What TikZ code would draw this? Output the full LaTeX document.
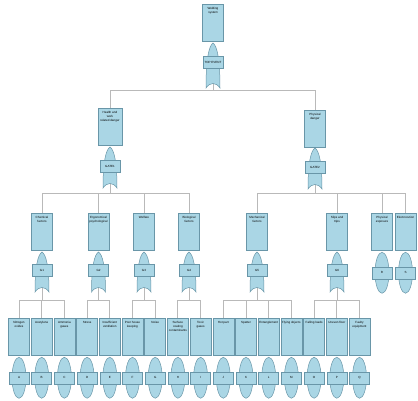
\documentclass[tikz,border=0pt]{standalone}
\usepackage{fontspec}
\setmainfont{Liberation Sans}
\usetikzlibrary{shapes.geometric, positioning}
\definecolor{evtfill}{RGB}{170,214,229}
\definecolor{evtline}{RGB}{105,150,168}
\definecolor{wiregray}{RGB}{185,185,185}
\newcommand{\etxt}[1]{\parbox[t][30pt][t]{20pt}{\centering #1}}

\begin{document}
\begin{tikzpicture}[
  x=1pt, y=-1pt,
  evt/.style={rectangle, draw=evtline, fill=evtfill, line width=0.5pt, minimum width=21pt, minimum height=37pt, inner sep=0.5pt, anchor=north, font=\fontsize{3}{3.8}\selectfont},
  gl/.style={rectangle, draw=evtline, fill=evtfill, line width=0.5pt, minimum width=20pt, minimum height=12pt, inner sep=0pt, font=\fontsize{3}{3.8}\selectfont},
  bev/.style={ellipse, draw=evtline, fill=evtfill, line width=0.5pt, minimum width=14pt, minimum height=41pt, inner sep=0pt, anchor=north},
  orgate/.pic={\path[draw=evtline, fill=evtfill, line width=0.5pt] (-7,#1) .. controls (-7,0.35*#1) and (-4,0.06*#1) .. (0,0) .. controls (4,0.06*#1) and (7,0.35*#1) .. (7,#1) .. controls (3,#1-6) and (-3,#1-6) .. (-7,#1) -- cycle;},
  ln/.style={draw=wiregray, line width=0.9pt}
]
\fill[white] (0,0) rectangle (418,400);
\useasboundingbox (0,0) rectangle (418,400);

% top event
\node[evt] (top) at (213,4) {\etxt{Welding\\system}};
\pic at (213,43) {orgate=45};
\node[gl] (g0) at (213,62.5) {TOP EVENT};
\coordinate (g0b) at (213,84);
\coordinate (b0) at (213,90);

% second level
\node[evt, minimum width=24pt] (hz) at (110,108) {\etxt{Health and\\work\\related danger}};
\pic at (110,147) {orgate=41};
\node[gl] (g1) at (110,166) {GATE1};
\coordinate (g1b) at (110,184);
\coordinate (b1) at (110,193);

\node[evt] (ph) at (315,110) {\etxt{Physical\\danger}};
\pic at (315,148) {orgate=41};
\node[gl] (g2) at (315,167) {GATE2};
\coordinate (g2b) at (315,185);
\coordinate (b2) at (315,193);

% third level
\node[evt] (ch) at (42,213) {\etxt{Chemical\\factors}};
\node[evt] (er) at (98.5,213) {\etxt{Ergonomical\\psychological}};
\node[evt] (we) at (144,213) {\etxt{Welfare}};
\node[evt] (bi) at (189,213) {\etxt{Biological\\factors}};
\node[evt] (me) at (257,213) {\etxt{Mechanical\\factors}};
\node[evt] (sl) at (337,213) {\etxt{Slips and\\trips}};
\node[evt] (px) at (382,213) {\etxt{Physical\\exposure}};
\node[evt] (el) at (405.5,213) {\etxt{Electrocution}};

\pic at (42,252) {orgate=40};
\node[gl] (g3) at (42,270) {G1};
\pic at (98.5,252) {orgate=40};
\node[gl] (g4) at (98.5,270) {G2};
\pic at (144,252) {orgate=40};
\node[gl] (g5) at (144,270) {G3};
\pic at (189,252) {orgate=40};
\node[gl] (g6) at (189,270) {G4};
\pic at (257,252) {orgate=40};
\node[gl] (g7) at (257,270) {G5};
\pic at (337,252) {orgate=40};
\node[gl] (g8) at (337,270) {G6};
\node[bev, label={[gl]center:R}] (epx) at (382,252) {};
\node[bev, label={[gl]center:S}] (eel) at (405.5,252) {};

\coordinate (g3b) at (42,288);
\coordinate (g4b) at (98.5,288);
\coordinate (g5b) at (144,288);
\coordinate (g6b) at (189,288);
\coordinate (g7b) at (257,288);
\coordinate (g8b) at (337,288);
\coordinate (c1) at (42,300);
\coordinate (c2) at (98.5,300);
\coordinate (c3) at (144,300);
\coordinate (c4) at (189,300);
\coordinate (c5) at (257,300);
\coordinate (c6) at (337,300);

% basic events
\node[evt] (la) at (19,318) {\etxt{Nitrogen\\oxides}};
\node[evt] (lb) at (41.7,318) {\etxt{Acetylene}};
\node[evt] (lc) at (64.4,318) {\etxt{Ammonia\\gases}};
\node[evt] (ld) at (87.1,318) {\etxt{Stress}};
\node[evt] (le) at (109.8,318) {\etxt{Insufficient\\ventilation}};
\node[evt] (lf) at (132.5,318) {\etxt{Poor house\\keeping}};
\node[evt] (lg) at (155.2,318) {\etxt{Noise}};
\node[evt] (lh) at (177.9,318) {\etxt{Surface coating\\contaminants}};
\node[evt] (li) at (200.6,318) {\etxt{Toxic\\gases}};
\node[evt] (lj) at (223.3,318) {\etxt{Hot part}};
\node[evt] (lk) at (246,318) {\etxt{Spatter}};
\node[evt] (ll) at (268.7,318) {\etxt{Entanglement}};
\node[evt] (lm) at (291.4,318) {\etxt{Flying objects}};
\node[evt] (lo) at (314.1,318) {\etxt{Falling loads}};
\node[evt] (lp) at (336.8,318) {\etxt{Uneven floor}};
\node[evt] (lq) at (359.5,318) {\etxt{Faulty\\equipment}};

\node[bev, label={[gl]center:A}] (ea) at (19,357) {};
\node[bev, label={[gl]center:B}] (eb) at (41.7,357) {};
\node[bev, label={[gl]center:C}] (ec) at (64.4,357) {};
\node[bev, label={[gl]center:D}] (ed) at (87.1,357) {};
\node[bev, label={[gl]center:E}] (ee) at (109.8,357) {};
\node[bev, label={[gl]center:F}] (ef) at (132.5,357) {};
\node[bev, label={[gl]center:G}] (eg) at (155.2,357) {};
\node[bev, label={[gl]center:H}] (eh) at (177.9,357) {};
\node[bev, label={[gl]center:I}] (ei) at (200.6,357) {};
\node[bev, label={[gl]center:J}] (ej) at (223.3,357) {};
\node[bev, label={[gl]center:K}] (ek) at (246,357) {};
\node[bev, label={[gl]center:L}] (el2) at (268.7,357) {};
\node[bev, label={[gl]center:M}] (em) at (291.4,357) {};
\node[bev, label={[gl]center:O}] (eo) at (314.1,357) {};
\node[bev, label={[gl]center:P}] (ep) at (336.8,357) {};
\node[bev, label={[gl]center:Q}] (eq) at (359.5,357) {};

% connectors
\draw[ln] (g0b) -- (b0) -| (hz);
\draw[ln] (b0) -| (ph);
\draw[ln] (g1b) -- (b1) -| (ch);
\draw[ln] (b1) -| (er);
\draw[ln] (b1) -| (we);
\draw[ln] (b1) -| (bi);
\draw[ln] (g2b) -- (b2) -| (me);
\draw[ln] (b2) -| (sl);
\draw[ln] (b2) -| (px);
\draw[ln] (b2) -| (el);
\draw[ln] (g3b) -- (c1) -| (la);
\draw[ln] (c1) -| (lb);
\draw[ln] (c1) -| (lc);
\draw[ln] (g4b) -- (c2) -| (ld);
\draw[ln] (c2) -| (le);
\draw[ln] (g5b) -- (c3) -| (lf);
\draw[ln] (c3) -| (lg);
\draw[ln] (g6b) -- (c4) -| (lh);
\draw[ln] (c4) -| (li);
\draw[ln] (g7b) -- (c5) -| (lj);
\draw[ln] (c5) -| (lk);
\draw[ln] (c5) -| (ll);
\draw[ln] (c5) -| (lm);
\draw[ln] (g8b) -- (c6) -| (lo);
\draw[ln] (c6) -| (lp);
\draw[ln] (c6) -| (lq);
\end{tikzpicture}
\end{document}
